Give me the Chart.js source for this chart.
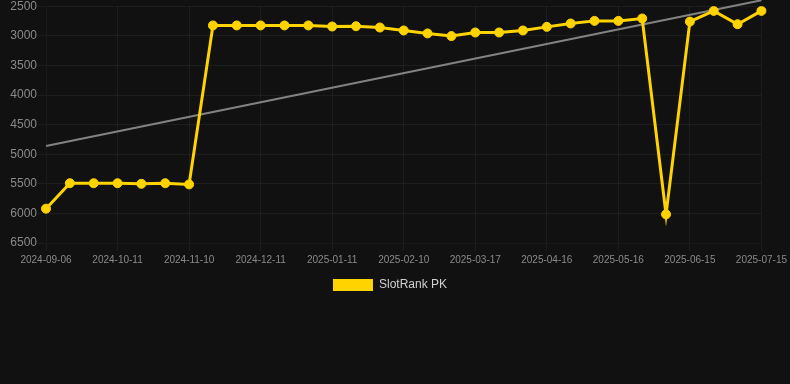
<!DOCTYPE html>
<html>
<head>
<meta charset="utf-8">
<script src="https://cdn.jsdelivr.net/npm/chart.js@4/dist/chart.umd.min.js"></script>
<style>
  html, body { margin: 0; padding: 0; background: #111111; overflow: hidden; }
  #wrap { position: relative; top: -2px; width: 790px; height: 303px; }
</style>
</head>
<body>
<div id="wrap"><canvas id="c"></canvas></div>
<script>
const categories = [
  '2024-09-06','2024-09-18','2024-09-29','2024-10-11','2024-10-21','2024-10-31',
  '2024-11-10','2024-11-20','2024-12-01','2024-12-11','2024-12-21','2025-01-01',
  '2025-01-11','2025-01-21','2025-01-31','2025-02-10','2025-02-22','2025-03-05',
  '2025-03-17','2025-03-27','2025-04-06','2025-04-16','2025-04-26','2025-05-06',
  '2025-05-16','2025-05-26','2025-06-05','2025-06-15','2025-06-25','2025-07-05',
  '2025-07-15'
];
const rankValues = [
  5920, 5490, 5490, 5490, 5500, 5490,
  5510, 2825, 2825, 2825, 2825, 2825,
  2843, 2838, 2860, 2910, 2960, 3005,
  2944, 2944, 2910, 2849, 2792, 2748,
  2748, 2708, 6016, 2760, 2579, 2804,
  2579
];
const trendValues = [4863].concat(new Array(29).fill(null), [2400]);
const seriesName = 'SlotRank PK';
const yTicks = { min: 2500, max: 6500, step: 500 };

new Chart(document.getElementById('c'), {
  type: 'line',
  data: {
    labels: categories,
    datasets: [
      {
        label: seriesName,
        data: rankValues,
        borderColor: '#FFD300',
        backgroundColor: '#FFD300',
        borderWidth: 3,
        pointRadius: 4.5,
        pointBorderWidth: 1,
        pointBackgroundColor: '#FFD300',
        pointBorderColor: '#FFD300',
        tension: 0,
        order: 1
      },
      {
        label: 'trend',
        data: trendValues,
        borderColor: 'rgba(150,150,150,0.85)',
        borderWidth: 2,
        pointRadius: 0,
        spanGaps: true,
        clip: false,
        order: 2
      }
    ]
  },
  options: {
    responsive: true,
    maintainAspectRatio: false,
    animation: false,
    layout: { padding: { left: 0, right: 10 } },
    plugins: {
      legend: {
        position: 'bottom',
        labels: {
          color: '#d0d0d0',
          boxWidth: 40,
          boxHeight: 12,
          font: { family: 'Liberation Sans, Arial, sans-serif', size: 12 },
          filter: (item) => item.text !== 'trend',
          generateLabels: (chart) => Chart.defaults.plugins.legend.labels.generateLabels(chart).map(l => Object.assign(l, { lineWidth: 0 }))
        }
      },
      tooltip: { enabled: false }
    },
    scales: {
      x: {
        grid: { color: 'rgba(255,255,255,0.05)' },
        ticks: {
          color: '#8a8a8a',
          font: { family: 'Liberation Sans, Arial, sans-serif', size: 10 },
          maxRotation: 0,
          autoSkip: true,
          callback: function(v, i) { return i % 3 === 0 ? this.getLabelForValue(v) : null; }
        }
      },
      y: {
        reverse: true,
        min: yTicks.min,
        max: yTicks.max,
        afterFit: (axis) => { axis.width = 46; },
        grid: { color: 'rgba(255,255,255,0.05)' },
        ticks: {
          stepSize: yTicks.step,
          padding: 1,
          color: '#8a8a8a',
          font: { family: 'Liberation Sans, Arial, sans-serif', size: 12 },
          callback: (v) => String(v)
        }
      }
    }
  }
});
</script>
</body>
</html>
